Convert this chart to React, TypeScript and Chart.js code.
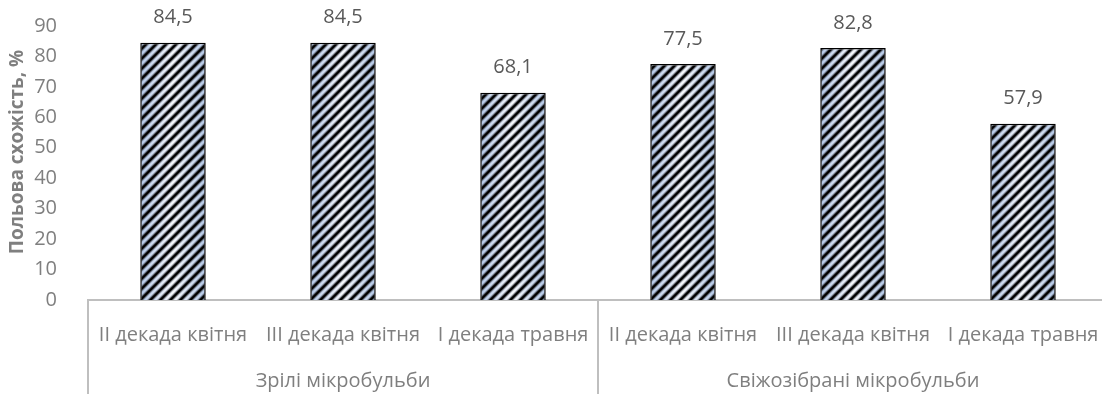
import React, { useEffect, useRef } from "react";
import { Chart, registerables } from "chart.js";

Chart.register(...registerables);

const categories = [
  "II декада квітня",
  "III декада квітня",
  "I декада травня",
  "II декада квітня",
  "III декада квітня",
  "I декада травня",
];
const groups = ["Зрілі мікробульби", "Свіжозібрані мікробульби"];
const groupSizes = [3, 3];
const values = [84.5, 84.5, 68.1, 77.5, 82.8, 57.9];
const yTicks = [0, 10, 20, 30, 40, 50, 60, 70, 80, 90];
const yTitle = "Польова схожість, %";

const FONT = "'Open Sans', sans-serif";
const FS = 20;
const BAR_PCT = 0.385;
const PERIOD = 10;

const patternCache: Record<string, CanvasPattern> = {};

function makePattern(ctx: CanvasRenderingContext2D, left: number, width: number) {
  const key = `${Math.round(left)}_${Math.round(width)}`;
  if (patternCache[key]) return patternCache[key];
  const W = Math.ceil(width) + 2;
  const tile = document.createElement("canvas");
  tile.width = W;
  tile.height = PERIOD;
  const t = tile.getContext("2d")!;
  const g = t.createLinearGradient(0, 0, width, 0);
  g.addColorStop(0, "#b4c9e8");
  g.addColorStop(0.5, "#f7f9fd");
  g.addColorStop(1, "#b4c9e8");
  t.fillStyle = g;
  t.fillRect(0, 0, W, PERIOD);
  const draw = (lw: number, color: string) => {
    t.strokeStyle = color;
    t.lineWidth = lw;
    for (let k = -2; k * PERIOD < W + 2 * PERIOD; k++) {
      t.beginPath();
      t.moveTo(k * PERIOD + PERIOD, -PERIOD);
      t.lineTo(k * PERIOD - 2 * PERIOD, 2 * PERIOD);
      t.stroke();
    }
  };
  draw(4.5, "rgba(40,40,50,0.45)");
  draw(2.6, "#000000");
  const p = ctx.createPattern(tile, "repeat")!;
  p.setTransform(new DOMMatrix().translate(left, 0));
  patternCache[key] = p;
  return p;
}

const labelPlugin = {
  id: "valueLabels",
  afterDatasetsDraw(chart: any) {
    const ctx = chart.ctx;
    const meta = chart.getDatasetMeta(0);
    ctx.save();
    ctx.font = `${FS}px ${FONT}`;
    ctx.fillStyle = "#595959";
    ctx.textAlign = "center";
    ctx.textBaseline = "middle";
    meta.data.forEach((bar: any, i: number) => {
      ctx.fillText(values[i].toFixed(1).replace(".", ","), bar.x, bar.y - 25);
    });
    ctx.restore();
  },
};

const groupPlugin = {
  id: "groupAxis",
  afterDraw(chart: any) {
    const ctx = chart.ctx;
    const xs = chart.scales.x;
    const area = chart.chartArea;
    const h = chart.height;
    ctx.save();
    ctx.strokeStyle = "#bfbfbf";
    ctx.lineWidth = 2;
    let start = 0;
    const bounds: number[] = [xs.getPixelForValue(-0.5)];
    groupSizes.forEach((n) => {
      start += n;
      bounds.push(xs.getPixelForValue(start - 0.5));
    });
    bounds.forEach((x) => {
      ctx.beginPath();
      ctx.moveTo(x, area.bottom);
      ctx.lineTo(x, h);
      ctx.stroke();
    });
    ctx.font = `${FS}px ${FONT}`;
    ctx.fillStyle = "#7f7f7f";
    ctx.textAlign = "center";
    ctx.textBaseline = "middle";
    groups.forEach((g, i) => {
      ctx.fillText(g, (bounds[i] + bounds[i + 1]) / 2, 381);
    });
    // y-axis title
    ctx.save();
    ctx.translate(18, 152);
    ctx.rotate(-Math.PI / 2);
    ctx.font = `bold 19px ${FONT}`;
    ctx.fillStyle = "#7f7f7f";
    ctx.fillText(yTitle, 0, 0);
    ctx.restore();
    ctx.restore();
  },
};

export default function App() {
  const ref = useRef<HTMLCanvasElement>(null);
  useEffect(() => {
    if (!ref.current) return;
    const chart = new Chart(ref.current, {
      type: "bar",
      data: {
        labels: categories,
        datasets: [
          {
            data: values,
            backgroundColor: (c: any) => {
              const ch = c.chart;
              const area = ch.chartArea;
              if (!area || c.dataIndex === undefined) return "#dce6f2";
              const xs = ch.scales.x;
              const cw = (area.right - area.left) / categories.length;
              const bw = cw * BAR_PCT;
              const left = xs.getPixelForValue(c.dataIndex) - bw / 2;
              return makePattern(ch.ctx, left, bw);
            },
            borderColor: "#000000",
            borderWidth: 1.5,
            barPercentage: BAR_PCT,
            categoryPercentage: 1,
          },
        ],
      },
      plugins: [labelPlugin, groupPlugin],
      options: {
        animation: false,
        responsive: true,
        maintainAspectRatio: false,
        layout: { padding: { top: 26, right: 0, left: 0, bottom: 0 } },
        plugins: { legend: { display: false }, tooltip: { enabled: false } },
        scales: {
          x: {
            offset: true,
            grid: { display: false },
            border: { color: "#bfbfbf", width: 2 },
            ticks: {
              autoSkip: false,
              maxRotation: 0,
              minRotation: 0,
              padding: 15,
              color: "#7f7f7f",
              font: { family: FONT, size: FS },
            },
            afterFit: (s: any) => {
              s.height = 94;
              s.paddingLeft = 0;
              s.paddingRight = 0;
            },
          },
          y: {
            min: 0,
            max: 90,
            grid: { display: false },
            border: { display: false },
            afterBuildTicks: (s: any) => {
              s.ticks = yTicks.map((v) => ({ value: v }));
            },
            ticks: {
              padding: 23,
              color: "#7f7f7f",
              font: { family: FONT, size: FS },
            },
            afterFit: (s: any) => {
              s.width = 88;
              s.paddingTop = 0;
              s.paddingBottom = 0;
            },
          },
        },
      },
    });
    return () => chart.destroy();
  }, []);
  return (
    <div style={{ position: "fixed", left: 0, top: 0, width: 1102, height: 394, overflow: "hidden", background: "#fff" }}>
      <div style={{ position: "relative", width: 1108, height: 394 }}>
        <canvas ref={ref} />
      </div>
    </div>
  );
}
